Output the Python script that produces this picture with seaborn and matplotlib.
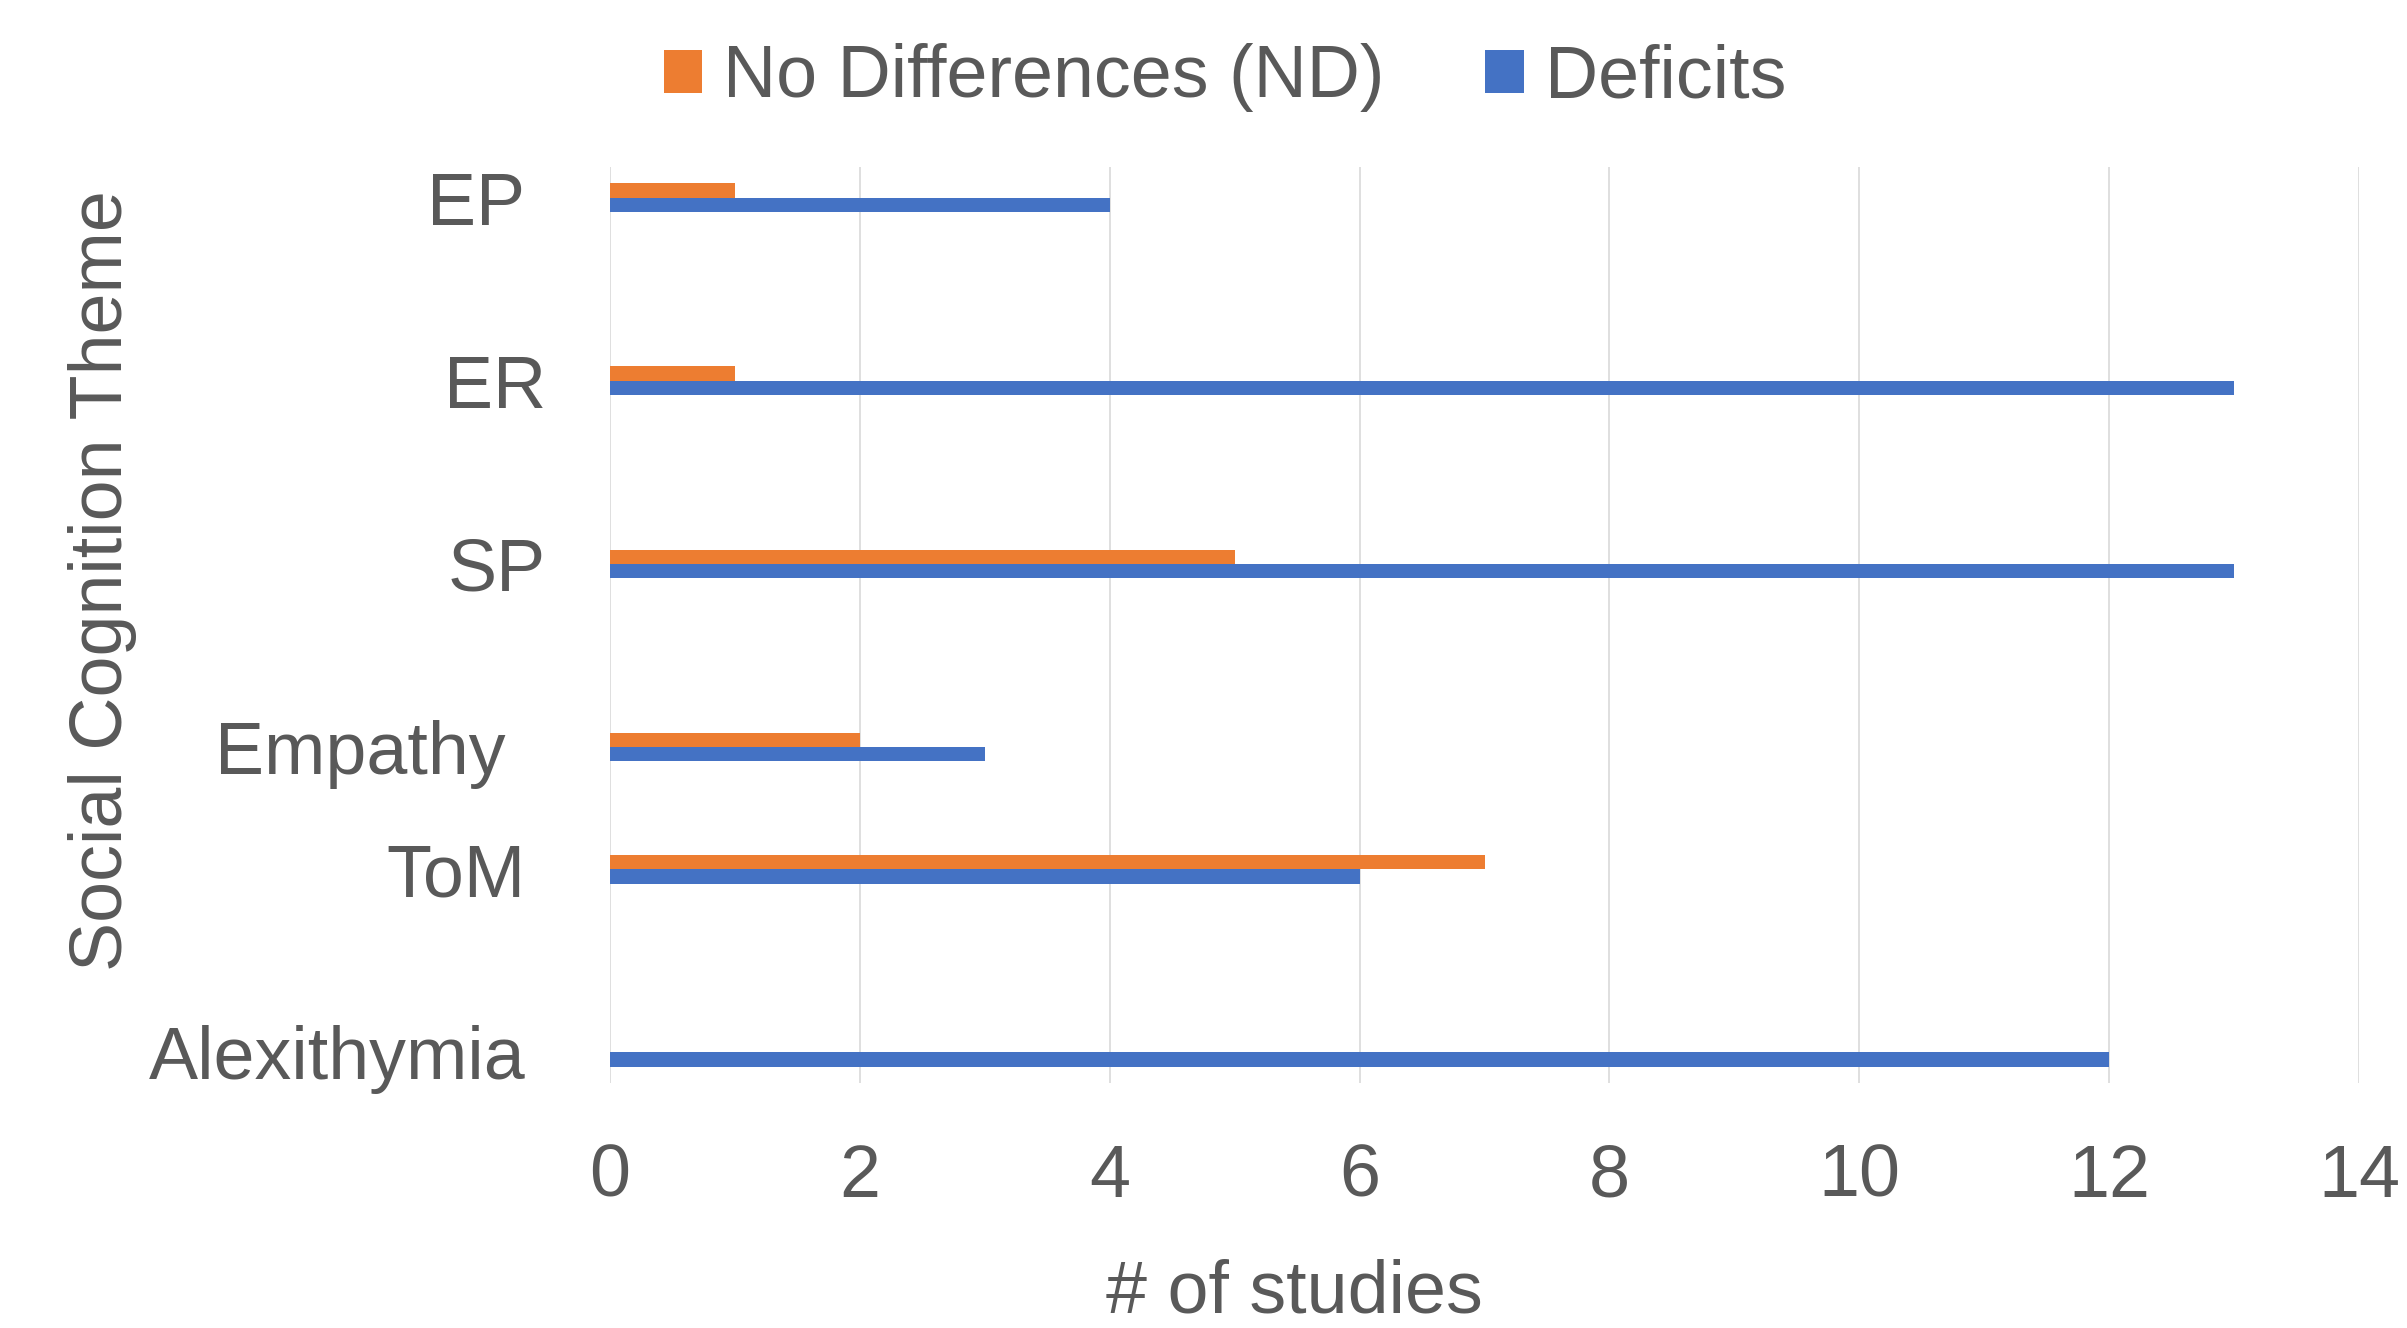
import matplotlib
matplotlib.use("Agg")
import matplotlib.pyplot as plt
import matplotlib.transforms as mtransforms
import pandas as pd
import seaborn as sns

# Themes from top to bottom; blank strings keep the empty rows of the axis
themes = ["EP", " ", "  ", "ER", "   ", "    ", "SP", "     ", "      ",
          "Empathy", "       ", "ToM", "        ", "         ", "Alexithymia"]
themes_with_data = ["EP", "ER", "SP", "Empathy", "ToM", "Alexithymia"]
no_differences = [1, 1, 5, 2, 7, 0]
deficits = [4, 13, 13, 3, 6, 12]
series = ["No Differences (ND)", "Deficits"]
colors = ["#ED7D31", "#4472C4"]
x_ticks = [0, 2, 4, 6, 8, 10, 12, 14]

df = pd.DataFrame({
    "theme": themes_with_data * 2,
    "result": [series[0]] * len(themes_with_data) + [series[1]] * len(themes_with_data),
    "count": no_differences + deficits,
})

sns.set_theme(style="white")
plt.rcParams["font.family"] = ["Liberation Sans", "DejaVu Sans"]
text_color = "#595959"
fs = 53

fig = plt.figure(figsize=(24.07, 13.28), dpi=100)
ax = fig.add_axes([0.2534, 0.18449, 0.7267, 0.68976])

sns.barplot(data=df, y="theme", x="count", hue="result", order=themes,
            hue_order=series, palette=colors, orient="h", width=0.47,
            dodge=True, linewidth=0, saturation=1, errorbar=None, ax=ax,
            legend=False)

ax.set_xlim(0, 14)
ax.set_xticks(x_ticks)
ax.set_xticklabels([str(t) for t in x_ticks])
ax.grid(axis="x", color="#D9D9D9", linewidth=1.2)
ax.grid(axis="y", visible=False)
ax.set_axisbelow(True)
for s in ax.spines.values():
    s.set_visible(False)

ax.tick_params(axis="x", length=0, pad=43, labelsize=fs, labelcolor=text_color)
ax.tick_params(axis="y", length=0, pad=61, labelsize=fs, labelcolor=text_color)

# small horizontal nudges of individual theme labels
nudges = {"ER": 21, "SP": 21, "Empathy": -20}
for lab in ax.get_yticklabels():
    dx = nudges.get(lab.get_text(), 0)
    if dx:
        lab.set_transform(lab.get_transform() +
                          mtransforms.ScaledTranslation(dx / 100, 0, fig.dpi_scale_trans))

ax.set_xlabel("# of studies", fontsize=fs, color=text_color, va="baseline")
ax.xaxis.set_label_coords((1295 - 610) / 1750, (1083 - 1313) / 916)

ax.set_ylabel("Social Cognition Theme", fontsize=fs, color=text_color,
              rotation=90, rotation_mode="anchor", va="baseline", ha="center")
ax.yaxis.set_label_coords((122 - 610) / 1750, (1083 - 581) / 916)

handles = [plt.Rectangle((0, 0), 1, 1, color=c, linewidth=0) for c in colors]
fig.legend(handles, series, loc="center", bbox_to_anchor=(1225 / 2407, 1 - 78 / 1328),
           ncol=2, frameon=False, fontsize=fs, labelcolor=text_color,
           handlelength=0.52, handleheight=0.52, handletextpad=0.29,
           columnspacing=1.37, borderpad=0, borderaxespad=0)

fig.savefig("out.png", dpi=100)
